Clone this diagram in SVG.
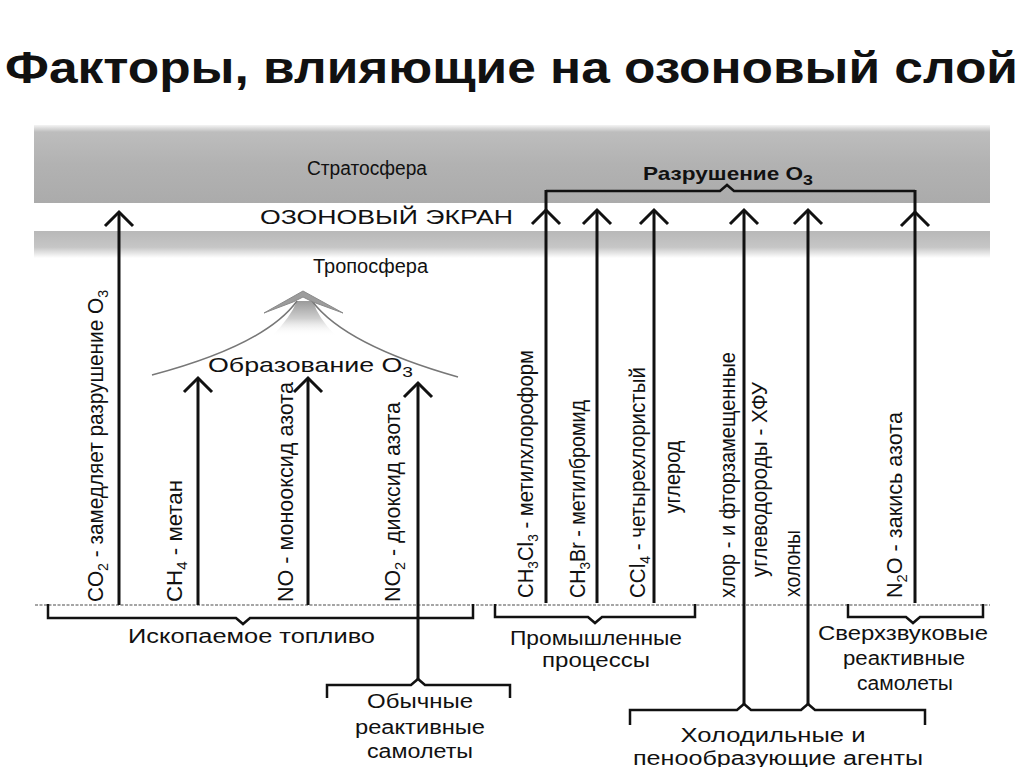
<svg xmlns="http://www.w3.org/2000/svg" width="1024" height="767" viewBox="0 0 1024 767">
<style>
text{font-family:"Liberation Sans",Arial,sans-serif;fill:#111;}
.t{font-size:20px;}
.v{font-size:22px;}
.sub{font-size:15px;}
.ln{stroke:#111;stroke-width:3;fill:none;}
.hd{stroke:#111;stroke-width:3;fill:none;stroke-linejoin:miter;}
.br{stroke:#111;stroke-width:2.5;fill:none;}
</style>
<defs>
<linearGradient id="gTop" x1="0" y1="0" x2="0" y2="1">
<stop offset="0" stop-color="#f4f4f4"/>
<stop offset="0.09" stop-color="#bdbdbd"/>
<stop offset="0.5" stop-color="#b2b2b2"/>
<stop offset="1" stop-color="#ababab"/>
</linearGradient>
<linearGradient id="gBot" x1="0" y1="0" x2="0" y2="1">
<stop offset="0" stop-color="#b8b8b8"/>
<stop offset="0.6" stop-color="#c6c6c6"/>
<stop offset="1" stop-color="#ffffff"/>
</linearGradient>
<linearGradient id="gHead" x1="0" y1="0" x2="0" y2="1">
<stop offset="0" stop-color="#9a9a9a"/>
<stop offset="0.5" stop-color="#cfcfcf"/>
<stop offset="1" stop-color="#ffffff" stop-opacity="0"/>
</linearGradient>
</defs>
<rect width="1024" height="767" fill="#fff"/>
<g id="title"><text x="5" y="83" font-size="44" font-weight="bold" textLength="1013" lengthAdjust="spacingAndGlyphs">Факторы, влияющие на озоновый слой</text></g>
<g id="atmosphere">
<rect x="34" y="125" width="956" height="78" fill="url(#gTop)"/>
<rect x="34" y="231" width="956" height="27" fill="url(#gBot)"/>
<line x1="35" y1="605" x2="990" y2="605" stroke="#888" stroke-width="1.5" stroke-dasharray="3 1.5"/>
<text class="t" x="307" y="175" font-size="19" textLength="120" lengthAdjust="spacingAndGlyphs">Стратосфера</text>
<text class="t" x="260" y="224" textLength="253" lengthAdjust="spacingAndGlyphs">ОЗОНОВЫЙ ЭКРАН</text>
<text class="t" x="313" y="273" font-size="19" textLength="115" lengthAdjust="spacingAndGlyphs">Тропосфера</text>
</g>
<g id="connectors">
<line class="ln" x1="119" y1="212" x2="119" y2="605"/>
<line class="ln" x1="198" y1="378" x2="198" y2="605"/>
<line class="ln" x1="308" y1="378" x2="308" y2="605"/>
<line class="ln" x1="418" y1="383" x2="418" y2="680"/>
<line class="ln" x1="546" y1="190" x2="546" y2="603"/>
<line class="ln" x1="597" y1="210" x2="597" y2="603"/>
<line class="ln" x1="654" y1="210" x2="654" y2="603"/>
<line class="ln" x1="744" y1="210" x2="744" y2="705"/>
<line class="ln" x1="808" y1="210" x2="808" y2="705"/>
<line class="ln" x1="915" y1="190" x2="915" y2="603"/>
<path class="hd" d="M105,226 L119,212 L133,226"/>
<path class="hd" d="M184,392 L198,378 L212,392"/>
<path class="hd" d="M294,392 L308,378 L322,392"/>
<path class="hd" d="M404,397 L418,383 L432,397"/>
<path class="hd" d="M532,224 L546,210 L560,224"/>
<path class="hd" d="M583,224 L597,210 L611,224"/>
<path class="hd" d="M640,224 L654,210 L668,224"/>
<path class="hd" d="M730,224 L744,210 L758,224"/>
<path class="hd" d="M794,224 L808,210 L822,224"/>
<path class="hd" d="M901,226 L915,212 L929,226"/>
</g>
<g id="destruction">
<path class="br" d="M546,191 H720 L727,185 L734,191 H915"/>
<text x="643" y="180" font-size="19" font-weight="bold" textLength="170" lengthAdjust="spacingAndGlyphs">Разрушение O<tspan class="sub" dy="5">3</tspan></text>
</g>
<g id="formation">
<path d="M297,301 L313,301 Q318,318 336,336 L272,336 Q290,318 297,301 Z" fill="url(#gHead)"/>
<path d="M152,375 Q265,345 297,301" stroke="#777" stroke-width="1.5" fill="none"/>
<path d="M458,377 Q345,345 312,301" stroke="#777" stroke-width="1.5" fill="none"/>
<path d="M303,291 L343,313 L313,302 L303,297 L293,302 L264,313 Z" fill="#9c9c9c" stroke="#8a8a8a" stroke-width="1"/>
<text x="208" y="372" font-size="21" textLength="205" lengthAdjust="spacingAndGlyphs">Образование O<tspan class="sub" dy="5">3</tspan></text>
</g>
<g id="co2"><text class="v" transform="translate(103,602) rotate(-90)" textLength="312" lengthAdjust="spacingAndGlyphs">CO<tspan class="sub" dy="5">2</tspan><tspan dy="-5"> - замедляет разрушение O</tspan><tspan class="sub" dy="5">3</tspan></text></g>
<g id="ch4"><text class="v" transform="translate(182,602) rotate(-90)" textLength="122" lengthAdjust="spacingAndGlyphs">CH<tspan class="sub" dy="5">4</tspan><tspan dy="-5"> - метан</tspan></text></g>
<g id="no"><text class="v" transform="translate(293,602) rotate(-90)" textLength="220" lengthAdjust="spacingAndGlyphs">NO - монооксид азота</text></g>
<g id="no2"><text class="v" transform="translate(400,602) rotate(-90)" textLength="200" lengthAdjust="spacingAndGlyphs">NO<tspan class="sub" dy="5">2</tspan><tspan dy="-5"> - диоксид азота</tspan></text></g>
<g id="ch3cl3"><text class="v" transform="translate(533,598) rotate(-90)" textLength="248" lengthAdjust="spacingAndGlyphs">CH<tspan class="sub" dy="5">3</tspan><tspan dy="-5">Cl</tspan><tspan class="sub" dy="5">3</tspan><tspan dy="-5"> - метилхлороформ</tspan></text></g>
<g id="ch3br"><text class="v" transform="translate(585,598) rotate(-90)" textLength="198" lengthAdjust="spacingAndGlyphs">CH<tspan class="sub" dy="5">3</tspan><tspan dy="-5">Br - метилбромид</tspan></text></g>
<g id="ccl4">
<text class="v" transform="translate(645,598) rotate(-90)" textLength="231" lengthAdjust="spacingAndGlyphs">CCl<tspan class="sub" dy="5">4</tspan><tspan dy="-5"> - четырехлористый</tspan></text>
<text class="v" transform="translate(680,477) rotate(-90)" text-anchor="middle" textLength="73" lengthAdjust="spacingAndGlyphs">углерод</text>
</g>
<g id="cfc">
<text class="v" transform="translate(735,598) rotate(-90)" textLength="246" lengthAdjust="spacingAndGlyphs">хлор - и фторзамещенные</text>
<text class="v" transform="translate(767,577) rotate(-90)" textLength="195" lengthAdjust="spacingAndGlyphs">углеводороды - ХФУ</text>
<text class="v" transform="translate(800,597) rotate(-90)" textLength="67" lengthAdjust="spacingAndGlyphs">холоны</text>
</g>
<g id="n2o"><text class="v" transform="translate(902,598) rotate(-90)" textLength="186" lengthAdjust="spacingAndGlyphs">N<tspan class="sub" dy="5">2</tspan><tspan dy="-5">O - закись азота</tspan></text></g>
<g id="fossil">
<path class="br" d="M48,604 V618 H236 L243,624 L250,618 H473 V604"/>
<text class="t" x="128" y="643" textLength="247" lengthAdjust="spacingAndGlyphs">Ископаемое топливо</text>
</g>
<g id="jets">
<path class="br" d="M327,698 V685 H411 L418,679 L425,685 H510 V698"/>
<text class="t" x="420" y="708" text-anchor="middle" textLength="106" lengthAdjust="spacingAndGlyphs">Обычные</text>
<text class="t" x="420" y="734" text-anchor="middle" textLength="130" lengthAdjust="spacingAndGlyphs">реактивные</text>
<text class="t" x="420" y="758" text-anchor="middle" textLength="106" lengthAdjust="spacingAndGlyphs">самолеты</text>
</g>
<g id="industry">
<path class="br" d="M495,604 V617 H588 L595,623 L602,617 H695 V604"/>
<text class="t" x="596" y="645" text-anchor="middle" textLength="172" lengthAdjust="spacingAndGlyphs">Промышленные</text>
<text class="t" x="596" y="667" text-anchor="middle" textLength="108" lengthAdjust="spacingAndGlyphs">процессы</text>
</g>
<g id="supersonic">
<path class="br" d="M848,604 V617 H906 L913,623 L920,617 H983 V604"/>
<text class="t" x="903" y="640" text-anchor="middle" textLength="170" lengthAdjust="spacingAndGlyphs">Сверхзвуковые</text>
<text class="t" x="904" y="665" text-anchor="middle" textLength="122" lengthAdjust="spacingAndGlyphs">реактивные</text>
<text class="t" x="905" y="690" text-anchor="middle" textLength="96" lengthAdjust="spacingAndGlyphs">самолеты</text>
</g>
<g id="refrigerants">
<path class="br" d="M630,725 V710 H737 L744,704 L751,710 H801 L808,704 L815,710 H925 V725"/>
<text class="t" x="773" y="742" text-anchor="middle" textLength="185" lengthAdjust="spacingAndGlyphs">Холодильные и</text>
<text class="t" x="778" y="765" text-anchor="middle" textLength="290" lengthAdjust="spacingAndGlyphs">пенообразующие агенты</text>
</g>
</svg>
